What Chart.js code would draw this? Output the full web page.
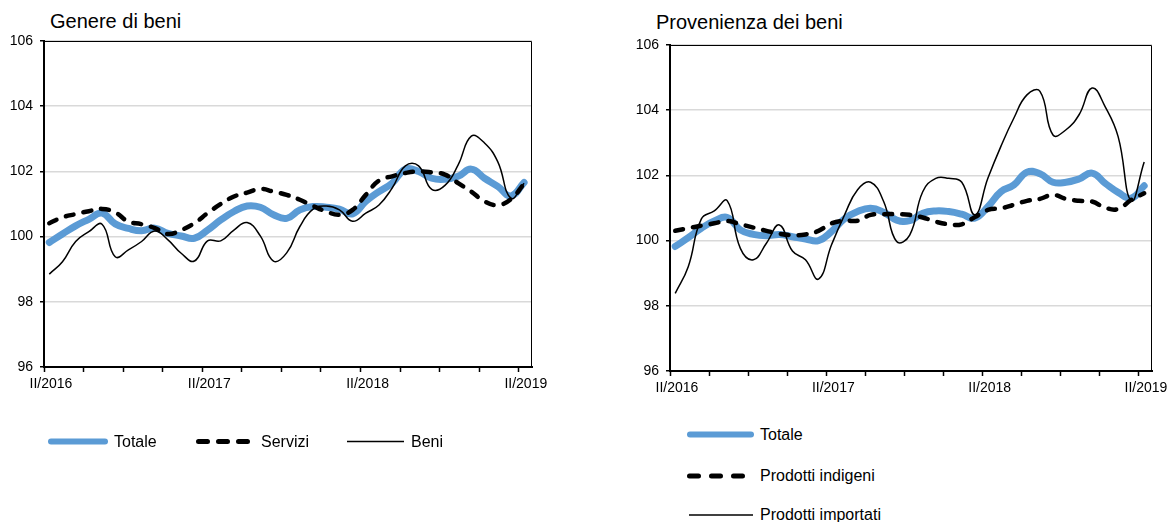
<!DOCTYPE html>
<html>
<head>
<meta charset="utf-8">
<title>Genere e provenienza dei beni</title>
<script src="https://cdn.jsdelivr.net/npm/chart.js@4.4.1/dist/chart.umd.min.js"></script>
<style>
  body { margin: 0; background: #fff; font-family: 'Liberation Sans', Arial, sans-serif; color: #000; }
  #wrap { position: relative; width: 1171px; height: 522px; overflow: hidden; }
  canvas { position: absolute; top: 0; }
  .title { position: absolute; font-size: 20px; line-height: 24px; white-space: nowrap; }
  .leg { position: absolute; font-size: 16px; line-height: 20px; white-space: nowrap; }
  svg { position: absolute; overflow: visible; }
</style>
</head>
<body>
<div id="wrap">
  <div class="title" style="left:50px; top:9px;">Genere di beni</div>
  <div class="title" style="left:656px; top:10px;">Provenienza dei beni</div>
  <canvas id="sx" width="580" height="400" style="left:0;"></canvas>
  <canvas id="dx" width="551" height="400" style="left:620px;"></canvas>

  <!-- legenda sinistra -->
  <svg width="1" height="1" style="left:0; top:0;">
    <line x1="51" y1="441.5" x2="105" y2="441.5" stroke="#5b9bd5" stroke-width="6" stroke-linecap="round"/>
    <line x1="198.5" y1="441.5" x2="250" y2="441.5" stroke="#000" stroke-width="5" stroke-linecap="round" stroke-dasharray="9 11"/>
    <line x1="347" y1="441.5" x2="404" y2="441.5" stroke="#000" stroke-width="1.5"/>
    <line x1="690" y1="434.5" x2="751" y2="434.5" stroke="#5b9bd5" stroke-width="6" stroke-linecap="round"/>
    <line x1="689.5" y1="476" x2="748" y2="476" stroke="#000" stroke-width="5" stroke-linecap="round" stroke-dasharray="9 13"/>
    <line x1="689" y1="515" x2="753" y2="515" stroke="#000" stroke-width="1.5"/>
  </svg>
  <div class="leg" style="left:114px; top:432px;">Totale</div>
  <div class="leg" style="left:261px; top:432px;">Servizi</div>
  <div class="leg" style="left:411px; top:432px;">Beni</div>
  <div class="leg" style="left:760px; top:425px;">Totale</div>
  <div class="leg" style="left:760px; top:466px;">Prodotti indigeni</div>
  <div class="leg" style="left:760px; top:505px;">Prodotti importati</div>
</div>
<script>
const FONT = "'Liberation Sans', Arial, sans-serif";

// etichette trimestrali (un tick ogni 3 mesi)
const etichetteTrimestri = ['II/2016', '', '', '', 'II/2017', '', '', '', 'II/2018', '', '', '', 'II/2019'];
const tickY = [96, 98, 100, 102, 104, 106];

// Genere di beni (dati mensili)
const totaleGenere = [99.82, 100.08, 100.33, 100.53, 100.72, 100.39, 100.25, 100.18, 100.26, 100.10,
  100.02, 99.95, 100.20, 100.51, 100.77, 100.94, 100.90, 100.67, 100.56, 100.82,
  100.92, 100.90, 100.84, 100.70, 101.08, 101.38, 101.64, 102.07, 102.00, 101.79,
  101.76, 101.85, 102.07, 101.79, 101.54, 101.25, 101.66];
const servizi = [100.41, 100.59, 100.69, 100.78, 100.85, 100.74, 100.46, 100.38, 100.26, 100.08,
  100.20, 100.41, 100.72, 101.00, 101.23, 101.35, 101.46, 101.38, 101.28, 101.13,
  100.94, 100.77, 100.67, 100.82, 101.28, 101.72, 101.85, 101.95, 102.00, 101.97,
  101.90, 101.64, 101.38, 101.08, 100.97, 101.15, 101.62];
const beni = [98.85, 99.23, 99.85, 100.15, 100.38, 99.38, 99.59, 99.85, 100.17, 99.90,
  99.49, 99.25, 99.87, 99.87, 100.20, 100.43, 100.02, 99.25, 99.50, 100.31,
  100.84, 100.94, 100.82, 100.47, 100.72, 100.97, 101.49, 102.17, 102.17, 101.45,
  101.57, 102.20, 103.08, 102.87, 102.30, 101.18, 101.64];

// Provenienza dei beni (dati mensili)
const totaleProvenienza = [99.82, 100.09, 100.38, 100.60, 100.71, 100.33, 100.19, 100.15, 100.19, 100.12,
  100.05, 100.00, 100.28, 100.67, 100.89, 100.99, 100.87, 100.63, 100.61, 100.84,
  100.91, 100.89, 100.81, 100.69, 101.04, 101.50, 101.71, 102.10, 102.05, 101.79,
  101.79, 101.89, 102.07, 101.76, 101.48, 101.30, 101.68];
const indigeni = [100.30, 100.38, 100.46, 100.53, 100.60, 100.50, 100.40, 100.30, 100.21, 100.17,
  100.19, 100.30, 100.53, 100.61, 100.61, 100.79, 100.81, 100.81, 100.79, 100.71,
  100.58, 100.50, 100.50, 100.72, 100.94, 100.99, 101.10, 101.22, 101.28, 101.40,
  101.28, 101.22, 101.20, 101.01, 100.97, 101.25, 101.45];
const importati = [98.38, 99.20, 100.66, 100.91, 101.22, 99.76, 99.41, 99.92, 100.48, 99.68,
  99.41, 98.82, 99.87, 100.79, 101.56, 101.79, 101.20, 99.97, 100.17, 101.50,
  101.91, 101.91, 101.79, 100.79, 101.91, 102.89, 103.76, 104.47, 104.58, 103.24,
  103.40, 103.86, 104.68, 104.11, 103.19, 101.22, 102.41];

// ogni mese cade poco dopo l'inizio del suo intervallo sull'asse
function punti(valori) {
  return valori.map((v, i) => ({ x: i + 0.4, y: v }));
}

const cornice = {
  id: 'cornice',
  afterDatasetsDraw(chart) {
    const { ctx, chartArea: a } = chart;
    ctx.save();
    ctx.strokeStyle = '#000';
    ctx.lineWidth = 1;
    ctx.beginPath();
    ctx.moveTo(a.left, a.top + 0.5);
    ctx.lineTo(a.right - 0.5, a.top + 0.5);
    ctx.lineTo(a.right - 0.5, a.bottom);
    ctx.stroke();
    ctx.restore();
  }
};

function serie(totale, seconda, terza) {
  return [
    { label: totale[0], data: punti(totale[1]), borderColor: '#5b9bd5', borderWidth: 7,
      borderCapStyle: 'round', borderJoinStyle: 'round', order: 3 },
    { label: seconda[0], data: punti(seconda[1]), borderColor: '#000', borderWidth: 4.5,
      borderDash: [8, 10], borderCapStyle: 'round', order: 2 },
    { label: terza[0], data: punti(terza[1]), borderColor: '#000', borderWidth: 1.5, order: 1 }
  ];
}

function creaGrafico(id, datasets, box) {
  return new Chart(document.getElementById(id), {
    type: 'line',
    data: { datasets },
    options: {
      responsive: false,
      animation: false,
      layout: { padding: { left: 0, top: box.top, right: box.right, bottom: 0 } },
      plugins: { legend: { display: false }, tooltip: { enabled: false } },
      elements: { point: { radius: 0 }, line: { tension: 0.45, fill: false } },
      scales: {
        x: {
          type: 'linear',
          min: 0,
          max: 37,
          afterBuildTicks(s) { s.ticks = etichetteTrimestri.map((_, k) => ({ value: k * 3 })); },
          afterFit(s) { s.height = box.xHeight; s.paddingLeft = 0; s.paddingRight = 0; },
          ticks: {
            autoSkip: false, maxRotation: 0, labelOffset: 7, padding: 4, color: '#000',
            font: { size: 14, family: FONT },
            callback: (v, k) => etichetteTrimestri[k]
          },
          grid: { drawOnChartArea: false, tickLength: 5, tickColor: '#000', tickWidth: 1.5 },
          border: { color: '#000', width: 2 }
        },
        y: {
          min: 96,
          max: 106,
          afterBuildTicks(s) { s.ticks = tickY.map(v => ({ value: v })); },
          afterFit(s) { s.width = box.yWidth; s.paddingTop = 0; s.paddingBottom = 0; },
          ticks: { padding: 7, color: '#000', font: { size: 14, family: FONT } },
          grid: { color: '#d9d9d9', lineWidth: 1.5, tickLength: 4, tickColor: '#000', tickWidth: 1.5 },
          border: { color: '#000', width: 2 }
        }
      }
    },
    plugins: [cornice]
  });
}

creaGrafico('sx', serie(['Totale', totaleGenere], ['Servizi', servizi], ['Beni', beni]),
  { top: 41, right: 48, xHeight: 33, yWidth: 44 });
creaGrafico('dx', serie(['Totale', totaleProvenienza], ['Prodotti indigeni', indigeni], ['Prodotti importati', importati]),
  { top: 45, right: 19, xHeight: 29, yWidth: 50 });
</script>
</body>
</html>
